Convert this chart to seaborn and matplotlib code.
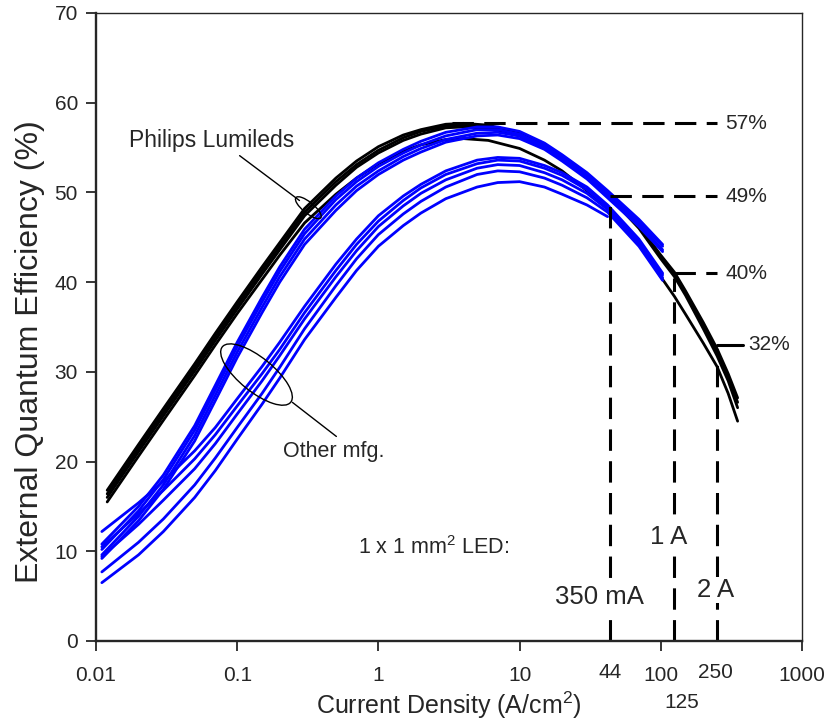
import numpy as np
import pandas as pd
import matplotlib
matplotlib.use("Agg")
import matplotlib.pyplot as plt
import matplotlib.transforms as mtransforms
from matplotlib.patches import Ellipse
import seaborn as sns

# Philips Lumileds curves (black)
lum_x = [0.012, 0.02, 0.03, 0.05, 0.07, 0.1, 0.15, 0.2, 0.3, 0.5, 0.7, 1, 1.5, 2, 3, 4,
         6, 10, 15, 20, 30, 44, 70, 100, 125, 150, 200, 250, 300, 350]
lum_1 = [16.8, 21.9, 25.9, 30.9, 34.3, 37.8, 41.7, 44.4, 48.2, 51.6, 53.5, 55.1, 56.4, 57.0, 57.6, 57.7,
         57.5, 56.6, 55.2, 54.0, 51.8, 49.6, 46.3, 43.0, 41.1, 39.0, 35.5, 32.6, 29.8, 27.1]
lum_2 = [16.4, 21.5, 25.5, 30.5, 33.9, 37.4, 41.3, 44.0, 47.8, 51.2, 53.1, 54.7, 56.1, 56.8, 57.4, 57.5,
         57.3, 56.5, 55.1, 53.9, 51.7, 49.5, 46.2, 42.9, 40.9, 38.8, 35.2, 32.2, 29.4, 26.6]
lum_3 = [16.0, 21.1, 25.1, 30.1, 33.5, 37.0, 40.9, 43.6, 47.4, 50.8, 52.8, 54.4, 55.8, 56.5, 57.2, 57.3,
         57.1, 56.3, 55.0, 53.8, 51.6, 49.4, 46.0, 42.6, 40.6, 38.5, 34.8, 31.8, 29.0, 26.0]
lum_4 = [15.5, 20.6, 24.6, 29.6, 33.0, 36.5, 40.3, 43.0, 46.6, 49.8, 51.6, 53.2, 54.6, 55.3, 55.9, 56.0,
         55.8, 54.9, 53.6, 52.4, 50.2, 48.0, 44.3, 40.6, 38.4, 36.4, 33.2, 30.6, 27.6, 24.5]

# Other manufacturers (blue)
oth_x = [0.011, 0.02, 0.03, 0.05, 0.07, 0.1, 0.15, 0.2, 0.3, 0.5, 0.7, 1, 1.5, 2, 3, 5,
         7, 10, 15, 20, 30, 42, 70, 103]
oth_1 = [10.8, 15.0, 18.5, 24.0, 28.5, 33.3, 38.3, 41.7, 45.9, 49.6, 51.6, 53.3, 54.8, 55.7, 56.7, 57.3,
         57.3, 56.8, 55.5, 54.2, 52.2, 50.2, 47.0, 44.2]
oth_2 = [10.2, 14.5, 18.0, 23.5, 28.0, 32.8, 37.8, 41.2, 45.4, 49.2, 51.2, 52.9, 54.4, 55.3, 56.3, 57.0,
         57.0, 56.5, 55.2, 53.9, 51.9, 49.9, 46.8, 44.0]
oth_3 = [9.6, 13.9, 17.4, 22.9, 27.4, 32.2, 37.2, 40.6, 44.8, 48.6, 50.7, 52.4, 54.0, 54.9, 55.9, 56.6,
         56.7, 56.3, 55.0, 53.7, 51.7, 49.6, 46.5, 43.6]
oth_4 = [9.2, 13.4, 16.9, 22.3, 26.8, 31.6, 36.6, 40.0, 44.2, 48.0, 50.2, 52.0, 53.6, 54.5, 55.6, 56.3,
         56.4, 56.0, 54.8, 53.5, 51.5, 49.4, 46.2, 43.4]
oth_5 = [12.2, 15.4, 17.8, 21.2, 23.8, 27.0, 30.6, 33.3, 37.3, 42.0, 44.8, 47.4, 49.6, 50.9, 52.4, 53.6,
         53.9, 53.8, 53.0, 52.2, 50.6, 48.6, 44.8, 41.0]
oth_6 = [10.5, 14.2, 16.8, 20.3, 23.0, 26.2, 29.8, 32.5, 36.6, 41.3, 44.2, 46.8, 49.1, 50.5, 52.0, 53.2,
         53.6, 53.5, 52.7, 51.9, 50.3, 48.4, 44.6, 40.8]
oth_7 = [9.4, 13.0, 15.7, 19.2, 22.0, 25.3, 29.0, 31.8, 35.9, 40.6, 43.5, 46.2, 48.5, 49.9, 51.4, 52.7,
         53.1, 53.0, 52.2, 51.4, 49.9, 48.1, 44.3, 40.5]
oth_8 = [7.7, 11.0, 13.6, 17.4, 20.4, 23.8, 27.6, 30.5, 34.8, 39.6, 42.6, 45.3, 47.6, 49.0, 50.6, 52.0,
         52.4, 52.3, 51.6, 50.8, 49.4, 47.8, 44.0, 40.2]
oth_9 = [6.5, 9.6, 12.2, 16.0, 19.0, 22.5, 26.4, 29.3, 33.6, 38.3, 41.3, 44.0, 46.3, 47.7, 49.3, 50.6,
         51.1, 51.2, 50.6, 49.8, 48.6, 47.3]

# marked operating points
drive_x = [44, 125, 250]
drive_eqe = [49.6, 41.0, 33.0]
peak_eqe = 57.7
xtick_vals = [0.01, 0.1, 1, 10, 100, 1000]
xtick_labels = ["0.01", "0.1", "1", "10", "100", "1000"]

rows = []
for name, ys in [("L1", lum_1), ("L2", lum_2), ("L3", lum_3), ("L4", lum_4)]:
    for xv, yv in zip(lum_x, ys):
        rows.append((name, "Philips Lumileds", xv, yv))
for name, ys in [("O1", oth_1), ("O2", oth_2), ("O3", oth_3), ("O4", oth_4), ("O5", oth_5),
                 ("O6", oth_6), ("O7", oth_7), ("O8", oth_8), ("O9", oth_9)]:
    for xv, yv in zip(oth_x, ys):
        rows.append((name, "Other mfg.", xv, yv))
df = pd.DataFrame(rows, columns=["curve", "maker", "J", "EQE"])

sns.set_style("ticks")
plt.rcParams["font.family"] = ["Liberation Sans", "DejaVu Sans"]
plt.rcParams["mathtext.fontset"] = "custom"
plt.rcParams["mathtext.rm"] = "Liberation Sans"
plt.rcParams["mathtext.it"] = "Liberation Sans"

fig = plt.figure(figsize=(8.3, 7.22), dpi=100)
ax = fig.add_axes([96 / 830, 1 - 641 / 722, 706 / 830, 628 / 722])

sns.lineplot(data=df, x="J", y="EQE", hue="maker", units="curve", estimator=None,
             sort=False, palette={"Philips Lumileds": "black", "Other mfg.": "#0000ff"},
             linewidth=2.0, legend=False, ax=ax)
ax.set_xscale("log")
ax.set_xlim(0.01, 1000)
ax.set_ylim(0, 70)
ax.set_xticks(xtick_vals)
ax.set_xticklabels(xtick_labels)
ax.xaxis.set_minor_locator(matplotlib.ticker.NullLocator())
ax.set_yticks(range(0, 71, 10))
ax.tick_params(direction="out", length=7, width=1.3, labelsize=15, pad=6)
ax.tick_params(axis="x", pad=11)
for s in ["left", "bottom"]:
    ax.spines[s].set_linewidth(1.7)
for s in ["top", "right"]:
    ax.spines[s].set_linewidth(1.0)

ax.set_xlabel("Current Density (A/cm$^2$)", fontsize=18)
ax.xaxis.set_label_coords(0.5, -0.077)
ax.set_ylabel("External Quantum Efficiency (%)", fontsize=23)
ax.yaxis.set_label_coords(-0.072, 0.46)

# extra x labels
for xv, dx, dy in [(44, 0, -31), (250, -2, -31), (125, 7, -62)]:
    ax.annotate(str(xv), xy=(xv, 0), xycoords=("data", "axes fraction"),
                xytext=(dx * 0.72, dy * 0.72), textcoords="offset points",
                ha="center", va="center", fontsize=15)

# dashed guide lines
dash = (0, (7, 3.4))
ax.plot([3.3, 250], [peak_eqe, peak_eqe], ls=dash, lw=2.2, color="black")
ax.plot([drive_x[0], 250], [drive_eqe[0], drive_eqe[0]], ls=dash, lw=2.2, color="black")
ax.plot([drive_x[1], 250], [drive_eqe[1], drive_eqe[1]], ls=dash, lw=2.2, color="black")
ax.plot([drive_x[2], 380], [drive_eqe[2], drive_eqe[2]], lw=2.2, color="black")
for xv, yv in zip(drive_x, drive_eqe):
    ax.plot([xv, xv], [0, yv - 0.5], ls=dash, lw=2.2, color="black")

for yv, xv, lab in [(peak_eqe, 285, "57%"), (drive_eqe[0], 285, "49%"),
                    (drive_eqe[1], 285, "40%"), (drive_eqe[2], 415, "32%")]:
    ax.text(xv, yv, lab, ha="left", va="center", fontsize=15)

box = dict(facecolor="white", edgecolor="none", pad=1)
ax.text(2.48, 10.4, "1 x 1 mm$^2$ LED:", ha="center", va="center", fontsize=15.5)
ax.text(36.8, 4.9, "350 mA", ha="center", va="center", fontsize=18.5, bbox=box)
ax.text(113, 11.6, "1 A", ha="center", va="center", fontsize=18.5, bbox=box)
ax.text(243, 5.7, "2 A", ha="center", va="center", fontsize=18.5, bbox=box)

# group annotations with ellipses
def ring(xc, yc, w_px, h_px, ang):
    tr = fig.dpi_scale_trans + mtransforms.ScaledTranslation(xc, yc, ax.transData)
    ax.add_patch(Ellipse((0, 0), w_px / 100, h_px / 100, angle=ang, transform=tr,
                         fill=False, lw=1.0, color="black", zorder=5))

ring(0.319, 48.3, 32, 11, -39)
ax.plot([0.104, 0.276], [54.1, 49.1], lw=1.0, color="black")
ax.text(0.066, 55.8, "Philips Lumileds", ha="center", va="center", fontsize=16.5)

ring(0.137, 29.7, 88, 34, -39)
ax.plot([0.246, 0.504], [26.6, 22.8], lw=1.0, color="black")
ax.text(0.48, 21.1, "Other mfg.", ha="center", va="center", fontsize=15.5)

fig.savefig("out.png", dpi=100)
